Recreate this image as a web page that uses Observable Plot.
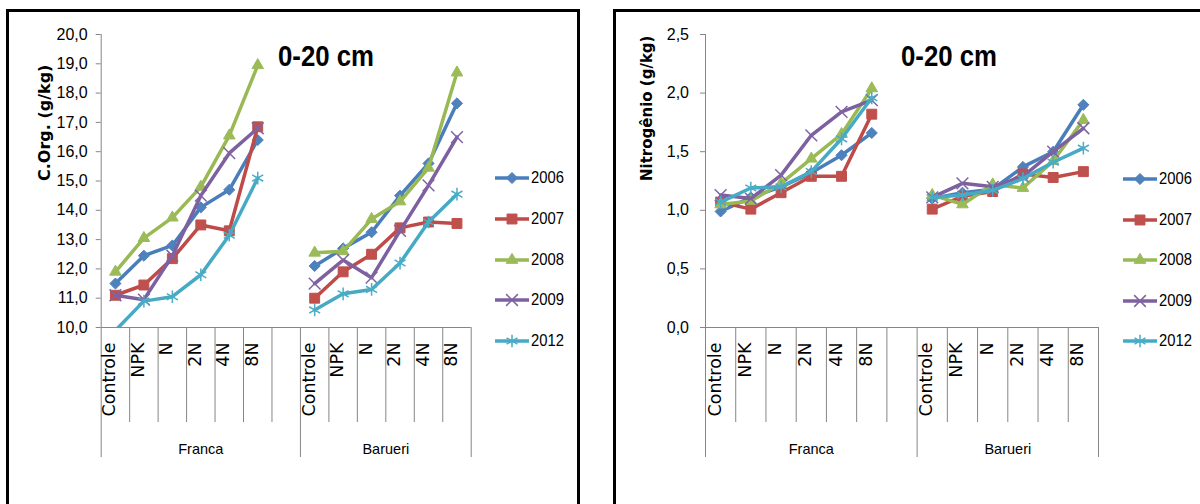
<!DOCTYPE html>
<html><head><meta charset="utf-8">
<script src="https://cdn.jsdelivr.net/npm/d3@7"></script>
<script src="https://cdn.jsdelivr.net/npm/@observablehq/plot@0.6"></script>
<style>
body{margin:0;background:#fff;}
#page{position:relative;width:1200px;height:504px;overflow:hidden;background:#fff;}
.panel{position:absolute;border:3px solid #000;box-sizing:border-box;}
.chart{position:absolute;top:0;}
.title{position:absolute;font-family:'Liberation Sans',Arial,sans-serif;font-weight:bold;font-size:29px;transform:translate(-50%,-50%) scaleX(0.89);white-space:nowrap;color:#000;}
.legend-row{position:absolute;display:flex;align-items:center;height:20px;}
.legend-row span{display:inline-block;font-family:'Liberation Sans',Arial,sans-serif;font-size:17px;margin-left:2px;color:#000;transform:scaleX(0.87);transform-origin:left center;}
</style>
</head><body><div id="page"></div>
<script>
// ---------- data ----------
const categories = ["Controle", "NPK", "N", "2N", "4N", "8N"];
const groups = ["Franca", "Barueri"];
const years = ["2006", "2007", "2008", "2009", "2012"];

// C.Org. (g/kg): first six = Franca, last six = Barueri
const corg2006 = [11.5, 12.45, 12.8, 14.1, 14.7, 16.4,   12.1, 12.7, 13.25, 14.5, 15.6, 17.65];
const corg2007 = [11.1, 11.45, 12.35, 13.5, 13.3, 16.85, 11.0, 11.9, 12.5, 13.4, 13.6, 13.55];
const corg2008 = [11.9, 13.05, 13.75, 14.8, 16.55, 18.95, 12.55, 12.6, 13.7, 14.3, 15.45, 18.7];
const corg2009 = [11.1, 10.95, 12.45, 14.5, 15.95, 16.8, 11.5, 12.3, 11.7, 13.3, 14.85, 16.5];
const corg2012 = [9.9, 10.9, 11.05, 11.8, 13.15, 15.1,   10.6, 11.15, 11.3, 12.2, 13.6, 14.55];

// Nitrogênio (g/kg): first six = Franca, last six = Barueri
const nitro2006 = [0.99, 1.11, 1.2, 1.32, 1.47, 1.66,  1.1, 1.15, 1.18, 1.37, 1.5, 1.9];
const nitro2007 = [1.07, 1.01, 1.15, 1.29, 1.29, 1.82, 1.01, 1.12, 1.16, 1.31, 1.28, 1.33];
const nitro2008 = [1.05, 1.08, 1.23, 1.44, 1.65, 2.04, 1.13, 1.05, 1.22, 1.19, 1.42, 1.77];
const nitro2009 = [1.13, 1.1, 1.3, 1.64, 1.84, 1.94,   1.11, 1.23, 1.2, 1.29, 1.5, 1.7];
const nitro2012 = [1.07, 1.19, 1.2, 1.33, 1.61, 1.96,  1.11, 1.13, 1.17, 1.27, 1.41, 1.53];

const corgTicks = [10, 11, 12, 13, 14, 15, 16, 17, 18, 19, 20];
const nitroTicks = [0, 0.5, 1, 1.5, 2, 2.5];

const titleText = "0-20 cm";
const corgLabel = "C.Org. (g/kg)";
const nitroLabel = "Nitrogênio (g/kg)";

// ---------- styles ----------
const lineColors = ["#4A7EBB", "#BE4B48", "#98B954", "#7D60A0", "#46AAC5"];
const markerColors = ["#4F81BD", "#C0504D", "#9BBB59", "#8064A2", "#4BACC6"];
const markerSymbols = ["diamond2", "square", "triangle", "times", "asterisk"];
const markerR = [5, 5.6, 4.3, 5.4, 6];
const strokeSymbols = new Set(["times", "asterisk"]);
const d3Symbols = {diamond2: d3.symbolDiamond2, square: d3.symbolSquare, triangle: d3.symbolTriangle, times: d3.symbolTimes, asterisk: d3.symbolAsterisk};
const gray = "#868686";
const fmt = d => d.toFixed(1).replace(".", ",");

const nCat = categories.length;
const nSlots = groups.length * nCat + (groups.length - 1);
const slotOf = (gi, ci) => gi * (nCat + 1) + ci;

function buildRows(seriesList) {
  return seriesList.map((vals, si) => vals.map((v, k) => {
    const gi = Math.floor(k / nCat), ci = k % nCat;
    return {year: years[si], group: groups[gi], cat: categories[ci], slot: slotOf(gi, ci) + 0.5, value: v};
  }));
}

const catRows = groups.flatMap((g, gi) => categories.map((c, ci) => ({cat: c, slot: slotOf(gi, ci) + 0.5})));
const groupRows = groups.map((g, gi) => {
  const start = slotOf(gi, 0);
  const end = gi === groups.length - 1 ? nSlots : slotOf(gi + 1, 0);
  return {name: g, center: (start + end) / 2, start, end};
});
const groupBounds = [...new Set(groupRows.flatMap(d => [d.start, d.end]))];
const innerBounds = groups.flatMap((g, gi) => d3.range(1, nCat + 1).map(k => slotOf(gi, 0) + k))
  .filter(b => !groupBounds.includes(b));

function makeChart(cfg) {
  const rowsBySeries = buildRows(cfg.series);
  const y0 = cfg.ticks[0];
  const marks = [
    Plot.ruleX([0], {stroke: gray, strokeWidth: 1}),
    Plot.ruleY([y0], {stroke: gray, strokeWidth: 1}),
    Plot.ruleY(cfg.ticks, {y: d => d, x1: 0, x2: 0, insetLeft: -5, stroke: gray, strokeWidth: 1}),
    Plot.text(cfg.ticks, {y: d => d, text: fmt, frameAnchor: "left", textAnchor: "end", dx: -cfg.labelGap,
      fontFamily: "Liberation Sans", fontSize: 16, fill: "#000"}),
    Plot.ruleX(innerBounds, {x: d => d, y1: y0, y2: y0, insetBottom: -95, stroke: gray, strokeWidth: 1}),
    Plot.ruleX(groupBounds, {x: d => d, y1: y0, y2: y0, insetBottom: -130, stroke: gray, strokeWidth: 1}),
    Plot.text(catRows, {x: "slot", text: "cat", frameAnchor: "bottom", rotate: -90, textAnchor: "end", dy: 15,
      fontFamily: "DejaVu Sans", fontSize: 17.5, fill: "#000"}),
    Plot.text(groupRows, {x: "center", text: "name", frameAnchor: "bottom", dy: 126,
      fontFamily: "Liberation Sans", fontSize: 14.5, fill: "#000"}),
    Plot.text([cfg.label], {text: d => d, frameAnchor: "left", rotate: -90, dx: cfg.labelDx,
      fontFamily: "DejaVu Sans", fontWeight: "bold", fontSize: cfg.labelSize, fill: "#000"})
  ];
  rowsBySeries.forEach((rows, si) => {
    marks.push(Plot.line(rows, {x: "slot", y: "value", z: "group", stroke: lineColors[si], strokeWidth: 3.5, clip: true}));
    const sym = markerSymbols[si];
    const isStroke = strokeSymbols.has(sym);
    marks.push(Plot.dot(rows, {x: "slot", y: "value", symbol: sym, r: markerR[si],
      filter: d => d.value >= y0,
      fill: isStroke ? "none" : markerColors[si], stroke: markerColors[si], strokeWidth: isStroke ? 1.5 : 1}));
  });
  return Plot.plot({
    width: cfg.width, height: 504,
    marginLeft: cfg.marginLeft, marginRight: cfg.marginRight, marginTop: 34, marginBottom: 177,
    style: {fontFamily: "Liberation Sans, Arial, sans-serif", fontSize: "15px", color: "#000", background: "transparent", overflow: "visible"},
    x: {domain: [0, nSlots], axis: null},
    y: {domain: [cfg.ticks[0], cfg.ticks[cfg.ticks.length - 1]], axis: null},
    marks
  });
}

const page = document.getElementById("page");

function addPanel(left, top, width, height) {
  const d = document.createElement("div");
  d.className = "panel";
  Object.assign(d.style, {left: left + "px", top: top + "px", width: width + "px", height: height + "px"});
  page.appendChild(d);
}
addPanel(6, 9, 574, 600);
addPanel(613, 9, 700, 600);

function addChart(left, svg) {
  const w = document.createElement("div");
  w.className = "chart";
  w.style.left = left + "px";
  w.appendChild(svg);
  page.appendChild(w);
}

addChart(0, makeChart({series: [corg2006, corg2007, corg2008, corg2009, corg2012], ticks: corgTicks,
  width: 580, marginLeft: 100.7, marginRight: 109.3, labelGap: 13.5, label: corgLabel, labelDx: -56, labelSize: 16}));
addChart(600, makeChart({series: [nitro2006, nitro2007, nitro2008, nitro2009, nitro2012], ticks: nitroTicks,
  width: 600, marginLeft: 105, marginRight: 102, labelGap: 16.5, label: nitroLabel, labelDx: -58, labelSize: 15}));

function addTitle(cx, cy) {
  const t = document.createElement("div");
  t.className = "title";
  t.textContent = titleText;
  t.style.left = cx + "px"; t.style.top = cy + "px";
  page.appendChild(t);
}
addTitle(326, 56);
addTitle(948.5, 56);

function addLegend(x, y0, step) {
  years.forEach((yr, i) => {
    const row = document.createElement("div");
    row.className = "legend-row";
    row.style.left = x + "px";
    row.style.top = (y0 + i * step - 10) + "px";
    const svg = d3.create("svg").attr("width", 34).attr("height", 20);
    svg.append("line").attr("x1", 0).attr("x2", 34).attr("y1", 10).attr("y2", 10)
      .attr("stroke", lineColors[i]).attr("stroke-width", 3.5);
    const sym = markerSymbols[i];
    const isStroke = strokeSymbols.has(sym);
    svg.append("path").attr("transform", "translate(17,10)")
      .attr("d", d3.symbol(d3Symbols[sym], Math.PI * markerR[i] * markerR[i])())
      .attr("fill", isStroke ? "none" : markerColors[i]).attr("stroke", markerColors[i])
      .attr("stroke-width", isStroke ? 1.5 : 1);
    row.appendChild(svg.node());
    const s = document.createElement("span");
    s.textContent = yr;
    row.appendChild(s);
    page.appendChild(row);
  });
}
addLegend(495, 178, 40.75);
addLegend(1123, 179, 40.5);
</script>
</body></html>
